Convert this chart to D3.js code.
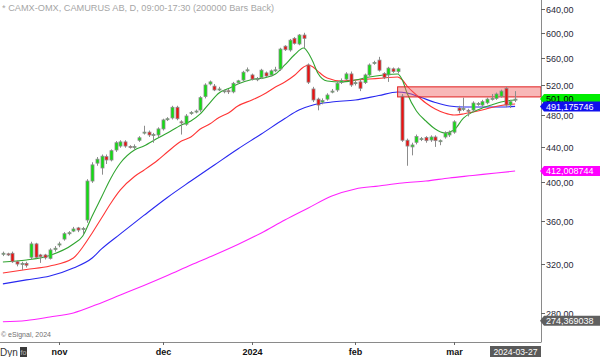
<!DOCTYPE html>
<html><head><meta charset="utf-8">
<script src="https://cdn.jsdelivr.net/npm/d3@7"></script>
<style>body{margin:0;background:#fff}svg{display:block;font-family:"Liberation Sans",Arial,sans-serif}</style>
</head><body><svg id="c" width="600" height="357"></svg>
<script>
// ---- data (daily OHLC, bar index 0 = mid Oct 2023) ----
const opens =[329,329,329.5,322,320,320.5,326,338,328,328,325,333,337,342.5,347.5,350,353,351.5,360.7,401,421,415.5,428.5,424.6,436.3,441,446,440.5,440,448,457,458,454.5,454.5,462,474,476,490,471,468,482,484,486.4,504.5,522,519,514,512,512.5,511,524,527.7,542,535,529,531,538,535,542,543.7,578.5,572.6,591,582,596.3,549.7,515,501,497,501,511,513.6,524,529,536.5,523,525,524,535,553,557,537,535,544,540,505,448,440,445.5,449,451.5,448.3,452,447,452,454.5,458,489,488,486,486.4,494,493,496,501.5,502,505,516,493,499.8];
const highs =[331,330,331,323,322,322,340,339,329,329,334,336,340,349,350,354,354,354,403,422,428,431,431,437,447,448,448,442,443,453,466,460,457,464,475,477,492,492,473,481,485,487,505,523,527,522,518,514,515,525,528,541,546,537,532,544,540,543,547,576,580,590,593,598,600,552,518,503,502,509,515,526,530,539,540,527,528,537,552,556,562,539,547,546,546,508,450,445,455,452,453,454,454,449,459,460,473,492,503,488,498,497,500,503,508,510,514,518,500,512];
const lows  =[327,327,321,318,315,317,324,325,321,324,324,331,335,341,346,349,349,347,358,399,418,408,420,423,434,439,439,438,437,446,455,452,445,452,460,472,474,473,455,466,480,482,484,502,520,512,512,509,508,509,522,526,539,527,526,529,532,533,539,541,571,570,581,580,575,522,497,486,494,499,509,511,522,527,518,520,512,522,533,550,540,529,525,538,537,446,418,430,443,447,445,446,440,442,450,452,456,482,485,478,484,492,491,494,499,500,503,490,489,497];
const closes=[329.5,328,322,320,320.5,319,338,326,326.5,325.5,332.5,334,338,347.5,348.5,352,351,352.5,401,419,425.5,429,424.6,435.5,445,446,441,440,440.5,451,458,454.5,455,462,473.4,475,490,475,470,478.5,483,485,503,520.6,525,513.6,515,512.5,512,523,526.5,539,542.5,529,529.5,542,533.5,541,542.5,574,573,588,583,596.3,591,524.6,499.8,493,499,506.6,512,523,527,536.5,520.6,524,516,535,549.7,553.5,542,531,545,540,544,448,441,442.3,452.6,450,447.5,452,447.5,447.5,457,458,471,485.5,488.5,485,495.7,495,497.5,501,502,508,512,493,497.5,501];

// moving averages (bar index, value)
const greenIdx=[0,5,10,15,17,19,21,23,25,28,30,33,35,38,40,42,44,46,48,50,53,56,58,60,62,64,65,66,67,69,72,75,78,81,84,85,86,88,90,92,94,96,98,100,102,104,106,109];
const greenVal=[321.8,323.6,327.6,337.9,345.4,364.7,384.0,404.4,421.1,436.3,441.1,450.8,457.0,467.0,472.1,481.2,495.7,509.4,515.6,522.0,528.4,531.3,536.4,549.7,564.8,575.7,567.9,554.2,537.9,526.3,524.8,527.7,532.1,534.9,536.4,527.7,509.4,485.1,472.1,461.9,457.0,460.7,475.9,483.7,489.0,493.1,497.1,499.8];
const redIdx=[0,5,10,15,17,19,21,23,25,28,30,33,35,38,40,42,44,46,48,50,53,56,58,60,62,64,65,66,67,69,72,75,78,81,84,85,86,88,90,92,94,96,98,100,102,104,106,109];
const redVal=[312.3,315.3,318.3,325.3,335.2,348.2,362.7,377.8,391.4,406,413,424.6,433.9,447.1,452.0,461.9,468.2,476.6,482.4,491.7,499.8,509.4,517.8,524.8,534.2,546.7,549.7,546.7,540.7,530.6,526.3,527.7,529.1,530.6,532.1,527.7,519.2,506.6,495.7,487.7,482.4,479.8,481.2,483.7,486.4,489.7,492.4,494.4];
const blueIdx=[0,5,10,15,19,21,25,30,35,40,45,50,55,60,63,66,70,75,80,84,86,89,92,95,98,102,106,109];
const blueVal=[303.2,306.5,309.8,316.6,325.3,333.4,347.3,365.2,383.5,401.0,418.9,437.5,455.7,475.3,486.4,493.1,497.1,499.8,505.9,510.8,509.4,503.2,496.4,491.7,490.4,490.4,490.4,491.2];
const magIdx=[0,5,10,15,20,25,30,35,40,45,50,55,60,65,70,75,80,85,90,95,100,105,109];
const magVal=[273.5,274.5,277.1,280.2,286.7,294.2,301.9,310.2,319.2,328.0,337.5,348.2,360.7,372.7,385.0,392.5,395.7,398.9,401.0,404.4,407.1,409.9,412.0];

const yTicks=[280,320,360,400,440,480,520,560,600,640];
const monthIdx=[12,34,53,75,96];
const monthLabels=["nov","dec","2024","feb","mar"];
const zone={from:84,low:504,high:518};
const priceLabels=[
  {v:501.00,text:"501,00",bg:"#00ee00",fg:"#000"},
  {v:491.175746,text:"491,175746",bg:"#1010ee",fg:"#fff"},
  {v:412.008744,text:"412,008744",bg:"#ff00ff",fg:"#fff"},
  {v:274.369038,text:"274,369038",bg:"#606060",fg:"#fff"}
];
const titleText="* CAMX-OMX, CAMURUS AB, D, 09:00-17:30 (200000 Bars Back)";
const lastDate="2024-03-27";

// ---- layout ----
const svg=d3.select("#c");
const plotR=541, plotB=342;
const x=d3.scaleLinear().domain([0,opens.length-1]).range([2.9,515.1]);
const y=d3.scaleLog().domain([258.9,655.9]).range([plotB,0]);
const fmt=v=>d3.format(".2f")(v).replace(".",",");

svg.append("defs").append("clipPath").attr("id","pc").append("rect").attr("x",0).attr("y",0).attr("width",plotR).attr("height",plotB);
const g=svg.append("g").attr("clip-path","url(#pc)");

// title
svg.append("text").attr("x",2).attr("y",11).attr("font-size",9.2).attr("fill","#a6a6a6").text(titleText);

// moving averages
const line=d3.line().x(d=>x(d[0])).y(d=>y(d[1])).curve(d3.curveMonotoneX);
[[magIdx,magVal,"#ff22ff"],[blueIdx,blueVal,"#2828f0"],[redIdx,redVal,"#ff3535"],[greenIdx,greenVal,"#30a530"]].forEach(([ix,vv,c])=>{
  g.append("path").datum(ix.map((d,i)=>[d,vv[i]])).attr("d",line).attr("fill","none").attr("stroke",c).attr("stroke-width",1.1);
});

// resistance zone
g.append("rect").attr("x",x(zone.from)).attr("y",y(zone.high)).attr("width",plotR-x(zone.from)).attr("height",y(zone.low)-y(zone.high))
 .attr("fill","#f06060").attr("fill-opacity",0.45).attr("stroke","#e02020").attr("stroke-width",1);

// candles
const idx=d3.range(opens.length);
const cg=g.append("g");
cg.selectAll("line.w").data(idx).join("line")
  .attr("x1",i=>Math.round(x(i))+0.5).attr("x2",i=>Math.round(x(i))+0.5)
  .attr("y1",i=>y(highs[i])).attr("y2",i=>y(lows[i])).attr("stroke","#8c8c8c").attr("stroke-width",1);
cg.selectAll("rect.b").data(idx).join("rect")
  .attr("x",i=>Math.round(x(i))-1).attr("width",3)
  .attr("y",i=>y(Math.max(opens[i],closes[i])))
  .attr("height",i=>Math.max(1,Math.abs(y(opens[i])-y(closes[i]))))
  .attr("fill",i=>closes[i]>=opens[i]?"#10e010":"#ee1010")
  .attr("stroke","#8c8c8c").attr("stroke-width",0.8);

// frame
svg.append("line").attr("x1",plotR+0.5).attr("x2",plotR+0.5).attr("y1",0).attr("y2",plotB).attr("stroke","#8a8a8a");
svg.append("line").attr("x1",0).attr("x2",plotR+0.5).attr("y1",plotB+0.5).attr("y2",plotB+0.5).attr("stroke","#8a8a8a");

// right axis
const ya=svg.append("g");
yTicks.forEach(t=>{
  const yy=Math.round(y(t))+0.5;
  ya.append("line").attr("x1",plotR).attr("x2",plotR+4).attr("y1",yy).attr("y2",yy).attr("stroke","#666");
  ya.append("text").attr("x",plotR+5).attr("y",yy+3.3).attr("font-size",9).attr("fill","#2a2a3a").text(fmt(t));
});

// price labels
priceLabels.forEach(p=>{
  const yc=y(p.v), h=10;
  svg.append("path").attr("d",`M${plotR-1},${yc} L${plotR+3},${yc-h/2} L600,${yc-h/2} L600,${yc+h/2} L${plotR+3},${yc+h/2} Z`).attr("fill",p.bg);
  svg.append("text").attr("x",plotR+5).attr("y",yc+3.3).attr("font-size",9).attr("fill",p.fg).text(p.text);
});

// bottom axis
monthIdx.forEach((m,i)=>{
  const xx=Math.round(x(m))+0.5;
  svg.append("line").attr("x1",xx).attr("x2",xx).attr("y1",plotB).attr("y2",plotB+3).attr("stroke","#666");
  svg.append("text").attr("x",xx).attr("y",355).attr("text-anchor","middle").attr("font-size",9).attr("font-weight","bold").attr("fill","#111").text(monthLabels[i]);
});
svg.append("rect").attr("x",490).attr("y",346).attr("width",51).attr("height",11).attr("fill","#5a5a5a");
svg.append("text").attr("x",515.5).attr("y",355).attr("text-anchor","middle").attr("font-size",8.6).attr("fill","#fff").text(lastDate);

// footer
svg.append("text").attr("x",1).attr("y",337).attr("font-size",7).attr("fill","#707070").text("© eSignal, 2024");
svg.append("text").attr("x",0).attr("y",356).attr("font-size",10).attr("fill","#333").text("Dyn");
svg.append("rect").attr("x",20).attr("y",347).attr("width",7).attr("height",10).attr("fill","#3a3a3a");
svg.append("text").attr("x",20.5).attr("y",355).attr("font-size",7).attr("fill","#bbb").text("fo");
</script></body></html>
